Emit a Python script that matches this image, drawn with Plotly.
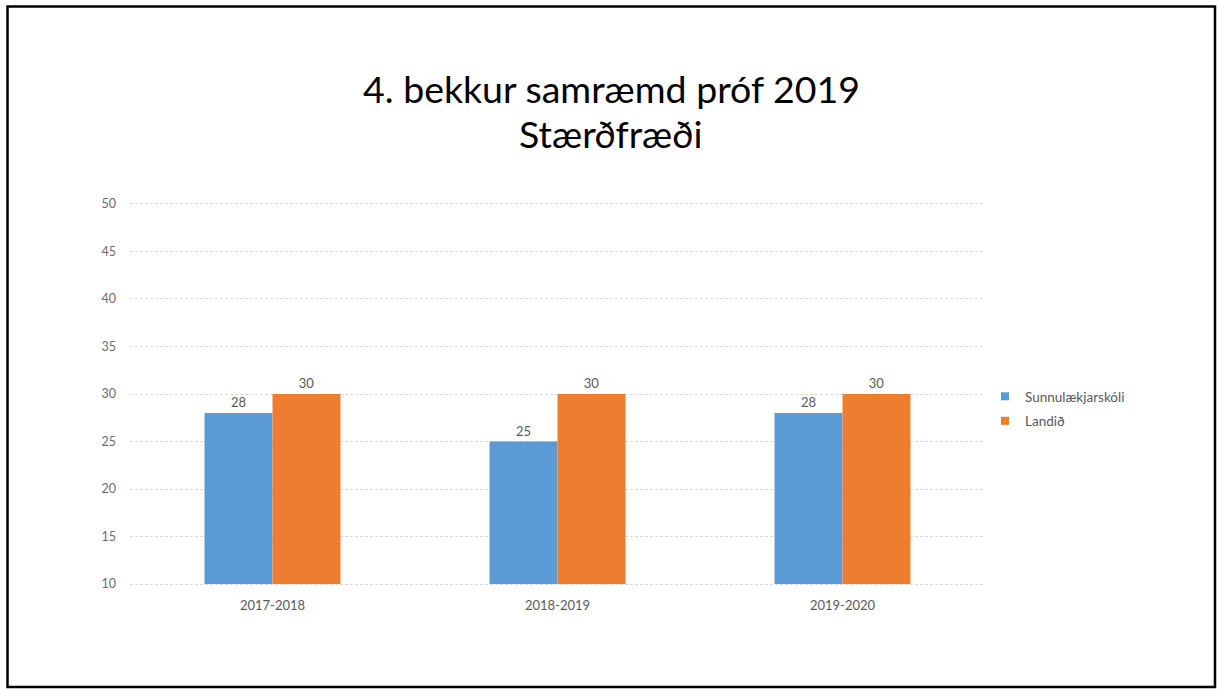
import plotly.graph_objects as go

categories = ["2017-2018", "2018-2019", "2019-2020"]
school = [28, 25, 28]
national = [30, 30, 30]
series_names = ["Sunnulækjarskóli", "Landið"]
title_lines = ["4. bekkur samræmd próf 2019", "Stærðfræði"]
y_ticks = [10, 15, 20, 25, 30, 35, 40, 45, 50]
colors = ["#5B9BD5", "#ED7D31"]
axis_base = 10  # bars start at the axis minimum

W, H = 1218, 689
L, R, T, B = 130, 233, 202, 103
pw, ph = W - L - R, H - T - B

def px_x(px):
    return (px - L) / pw

def px_y(py):
    return (H - B - py) / ph

FONT = "Lato, Open Sans, sans-serif"
GREY = "#595959"

fig = go.Figure()
lab_font = dict(family=FONT, size=13, color=GREY)
for vals, name, col in [(school, series_names[0], colors[0]), (national, series_names[1], colors[1])]:
    fig.add_trace(go.Bar(x=categories, y=[v - axis_base for v in vals], base=axis_base,
                         name=name, marker_color=col, marker_line_width=0,
                         text=[str(v) for v in vals], textposition="outside", textfont=lab_font,
                         cliponaxis=False, showlegend=False, hoverinfo="skip"))
for i, (name, col) in enumerate(zip(series_names, colors)):
    fig.add_trace(go.Scatter(x=[None], y=[None], mode="markers", name=name, legendgroup=f"g{i}",
                             marker=dict(symbol="square", size=8, color=col)))

fig.update_layout(
    width=W, height=H,
    margin=dict(l=L, r=R, t=T, b=B, pad=0),
    paper_bgcolor="white", plot_bgcolor="white",
    barmode="group", bargap=0.523, bargroupgap=0,
    font=dict(family=FONT, color=GREY),
    showlegend=True,
    legend=dict(x=px_x(985), y=px_y(381), xanchor="left", yanchor="top",
                font=dict(size=13.5, color=GREY), itemwidth=30, tracegroupgap=4),
    xaxis=dict(showgrid=False, showline=False, ticks="", tickfont=dict(size=13, color=GREY),
               ticklabelstandoff=10),
    yaxis=dict(range=[9.8, 50.2], tickvals=y_ticks, showgrid=True, gridcolor="#D9D9D9",
               griddash="3px,2px", gridwidth=1, zeroline=False, showline=False, ticks="",
               tickfont=dict(size=12.5, color="#6b6b6b"), ticklabelstandoff=13),
)

for txt, yc in zip(title_lines, [88, 133]):
    fig.add_annotation(xref="paper", yref="paper", x=px_x(611), y=px_y(yc),
                       text=txt, showarrow=False,
                       font=dict(family=FONT, size=37.5, color="black"),
                       xanchor="center", yanchor="middle")

fig.add_shape(type="rect", xref="paper", yref="paper",
              x0=px_x(7.5), x1=px_x(1215), y0=px_y(687), y1=px_y(6.5),
              line=dict(color="black", width=2.5), fillcolor="rgba(0,0,0,0)", layer="below")

fig.write_html("out.html", config={"displayModeBar": False},
               post_script="document.body.style.margin='0';")
